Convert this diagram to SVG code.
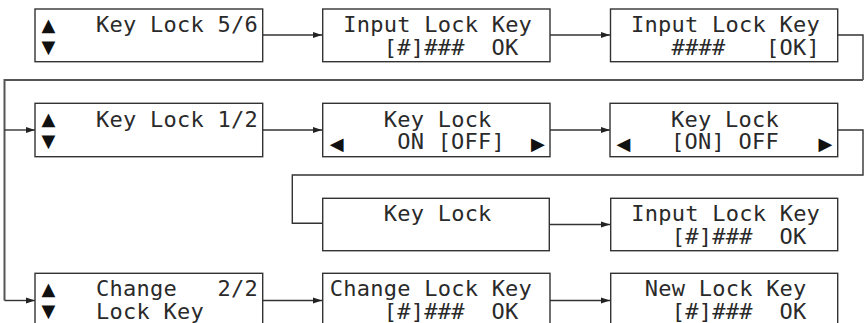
<svg xmlns="http://www.w3.org/2000/svg" width="865" height="323" viewBox="0 0 865 323" xml:space="preserve">
<style>
.box{fill:#fff;stroke:#333;stroke-width:1.4}
.t{font-family:"DejaVu Sans Mono","Liberation Mono",monospace;font-size:22px;fill:#2a2a2a;white-space:pre;letter-spacing:0.25px}
.s{font-family:"DejaVu Sans",sans-serif;font-size:18px;fill:#111;text-anchor:middle}
.c{fill:none;stroke:#333;stroke-width:1.4}
.g{fill:none;stroke:#555;stroke-width:2}
</style>
<defs>
<marker id="ah" markerWidth="10" markerHeight="7" refX="9" refY="3.5" orient="auto" markerUnits="userSpaceOnUse">
<path d="M0,0.5 L9,3.5 L0,6.5 z" fill="#222"/>
</marker>
</defs>
<g id="connectors">
<path class="c" d="M262.7,35 H322" marker-end="url(#ah)"/>
<path class="c" d="M550,35 H610" marker-end="url(#ah)"/>
<path class="c" d="M837.7,35 H863 V80"/>
<path class="g" d="M863,80 H4.5 V300.5"/>
<path class="c" d="M4.5,130 H35" marker-end="url(#ah)"/>
<path class="c" d="M4.5,300.5 H35" marker-end="url(#ah)"/>
<path class="c" d="M262.7,130 H322" marker-end="url(#ah)"/>
<path class="c" d="M550,130 H610" marker-end="url(#ah)"/>
<path class="c" d="M837.7,130 H863 V175 H292.3 V223.3 H322.7"/>
<path class="c" d="M549.3,224.5 H610" marker-end="url(#ah)"/>
<path class="c" d="M262.7,300.5 H322" marker-end="url(#ah)"/>
<path class="c" d="M550,300.5 H610" marker-end="url(#ah)"/>
</g>
<g id="n1">
<rect class="box" x="35" y="9" width="227.7" height="52.7"/>
<text class="s"><tspan x="48.3" y="30.5">▲</tspan><tspan x="48.3" y="53">▼</tspan></text>
<text class="t" x="95.96" y="32">Key Lock 5/6</text>
</g>
<g id="n2">
<rect class="box" x="322.7" y="9" width="227.3" height="52.7"/>
<text class="t" x="343.2" y="32">Input Lock Key</text>
<text class="t" x="383.66" y="55">[#]###  OK</text>
</g>
<g id="n3">
<rect class="box" x="610.5" y="9" width="227.2" height="52.7"/>
<text class="t" x="631" y="32">Input Lock Key</text>
<text class="t" x="671.46" y="55">####   [OK]</text>
</g>
<g id="n4">
<rect class="box" x="35" y="103.3" width="227.7" height="53.4"/>
<text class="s"><tspan x="48.3" y="124.8">▲</tspan><tspan x="48.3" y="147.3">▼</tspan></text>
<text class="t" x="95.96" y="126.5">Key Lock 1/2</text>
</g>
<g id="n5">
<rect class="box" x="322.7" y="103.3" width="227.3" height="53.4"/>
<text class="t" x="383.66" y="126.5">Key Lock</text>
<text class="s" x="336.7" y="149.5">◀</text>
<text class="t" x="397.15" y="149">ON [OFF]</text>
<text class="s" x="537.8" y="149.5">▶</text>
</g>
<g id="n6">
<rect class="box" x="610" y="103.3" width="227.7" height="53.4"/>
<text class="t" x="670.96" y="126.5">Key Lock</text>
<text class="s" x="623.5" y="149.5">◀</text>
<text class="t" x="670.96" y="149">[ON] OFF</text>
<text class="s" x="825.5" y="149.5">▶</text>
</g>
<g id="n7">
<rect class="box" x="322.7" y="198.3" width="226.6" height="52.4"/>
<text class="t" x="383.66" y="221">Key Lock</text>
</g>
<g id="n8">
<rect class="box" x="610.7" y="198.3" width="227" height="52.4"/>
<text class="t" x="631.19" y="220.5">Input Lock Key</text>
<text class="t" x="671.66" y="244">[#]###  OK</text>
</g>
<g id="n9">
<rect class="box" x="35" y="273.3" width="227.7" height="53"/>
<text class="s"><tspan x="48.3" y="294.5">▲</tspan><tspan x="48.3" y="317">▼</tspan></text>
<text class="t" x="95.96" y="296">Change   2/2</text>
<text class="t" x="95.96" y="319">Lock Key</text>
</g>
<g id="n10">
<rect class="box" x="322.7" y="273.3" width="227.3" height="53"/>
<text class="t" x="329.7" y="296">Change Lock Key</text>
<text class="t" x="383.66" y="319">[#]###  OK</text>
</g>
<g id="n11">
<rect class="box" x="610.7" y="273.3" width="227" height="53"/>
<text class="t" x="644.68" y="296">New Lock Key</text>
<text class="t" x="671.66" y="319">[#]###  OK</text>
</g>
</svg>
